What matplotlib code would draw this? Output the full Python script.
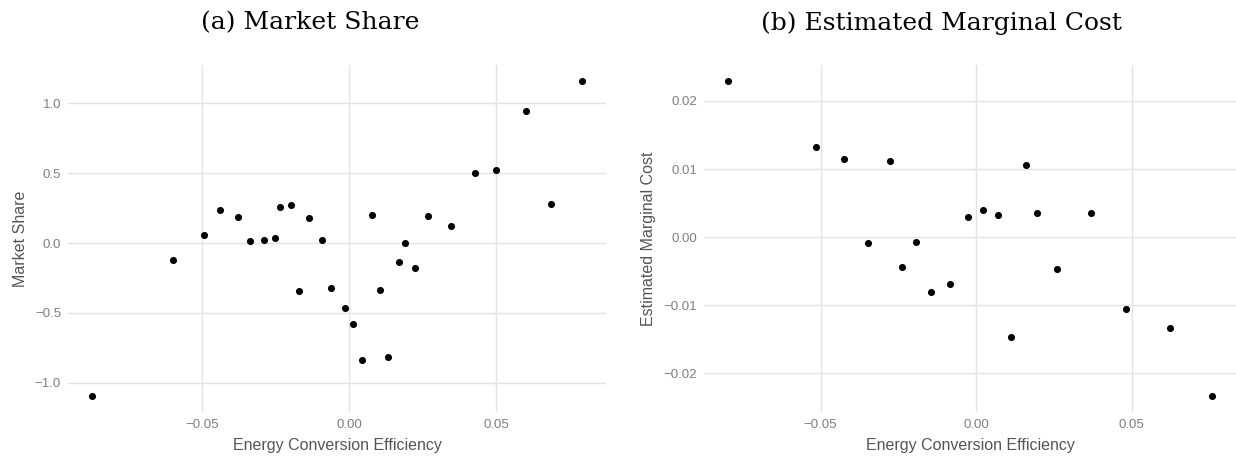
import matplotlib
matplotlib.use("Agg")
import matplotlib.pyplot as plt
import numpy as np

# panel (a): market share vs energy conversion efficiency
share_x = [-0.0874, -0.0599, -0.0495, -0.0441, -0.0380, -0.0338, -0.0290, -0.0253,
           -0.0234, -0.0199, -0.0172, -0.0136, -0.0092, -0.0061, -0.0015, 0.0012,
           0.0045, 0.0076, 0.0106, 0.0132, 0.0168, 0.0189, 0.0223, 0.0269,
           0.0346, 0.0429, 0.0500, 0.0603, 0.0686, 0.0791]
share_y = [-1.095, -0.119, 0.057, 0.233, 0.183, 0.017, 0.024, 0.036,
           0.255, 0.274, -0.340, 0.179, 0.019, -0.324, -0.467, -0.576,
           -0.833, 0.198, -0.333, -0.817, -0.138, -0.002, -0.181, 0.195,
           0.119, 0.498, 0.524, 0.943, 0.281, 1.160]

# panel (b): estimated marginal cost vs energy conversion efficiency
cost_x = [-0.0797, -0.0516, -0.0425, -0.0347, -0.0278, -0.0237, -0.0194, -0.0146,
          -0.0085, -0.0025, 0.0022, 0.0071, 0.0111, 0.0159, 0.0196, 0.0258,
          0.0368, 0.0480, 0.0624, 0.0757]
cost_y = [0.02296, 0.01327, 0.01146, -0.00083, 0.01111, -0.00431, -0.00064, -0.00803,
          -0.00681, 0.00294, 0.00401, 0.00328, -0.01469, 0.01062, 0.00353, -0.00465,
          0.00348, -0.01058, -0.01327, -0.02335]

share_ticks_y = [-1.0, -0.5, 0.0, 0.5, 1.0]
cost_ticks_y = [-0.02, -0.01, 0.0, 0.01, 0.02]
ticks_x = [-0.05, 0.0, 0.05]

W, H = 1236, 458
TICK_COLOR = "#7f7f7f"
TITLE_COLOR = "#555555"
GRID_COLOR = "#e3e3e3"


def expand(values, frac=0.05):
    lo, hi = min(values), max(values)
    pad = (hi - lo) * frac
    return lo - pad, hi + pad


def style_axis(ax, xs, ys, yticks, yfmt, ylabel):
    ax.scatter(xs, ys, s=26, color="black", linewidths=0, zorder=3)
    ax.set_xlim(*expand(xs))
    ax.set_ylim(*expand(ys))
    ax.set_xticks(ticks_x)
    ax.set_xticklabels([f"{v:.2f}".replace("-", "\u2212") for v in ticks_x])
    ax.set_yticks(yticks)
    ax.set_yticklabels([yfmt.format(v).replace("-", "\u2212") for v in yticks])
    for side in ax.spines.values():
        side.set_visible(False)
    ax.tick_params(length=0, labelsize=9.5, labelcolor=TICK_COLOR, pad=5)
    ax.grid(True, color=GRID_COLOR, linewidth=1.0)
    ax.set_axisbelow(True)
    ax.set_xlabel("Energy Conversion Efficiency", fontsize=11.5, color=TITLE_COLOR, labelpad=5)
    ax.set_ylabel(ylabel, fontsize=11.5, color=TITLE_COLOR, labelpad=5)


plt.rcParams["font.family"] = ["Liberation Sans", "DejaVu Sans"]
fig = plt.figure(figsize=(W / 100, H / 100), dpi=100)

ax_a = fig.add_axes([68 / W, 1 - 412 / H, (606 - 68) / W, (412 - 65) / H])
style_axis(ax_a, share_x, share_y, share_ticks_y, "{:.1f}", "Market Share")

ax_b = fig.add_axes([704 / W, 1 - 412 / H, (1236 - 704) / W, (412 - 65) / H])
style_axis(ax_b, cost_x, cost_y, cost_ticks_y, "{:.2f}", "Estimated Marginal Cost")

fig.text(310 / W, 1 - 23 / H, "(a) Market Share", ha="center", va="center",
         fontsize=18, family=["DejaVu Serif"])
fig.text(941 / W, 1 - 23 / H, "(b) Estimated Marginal Cost", ha="center", va="center",
         fontsize=18, family=["DejaVu Serif"])

fig.savefig("out.png", dpi=100)
